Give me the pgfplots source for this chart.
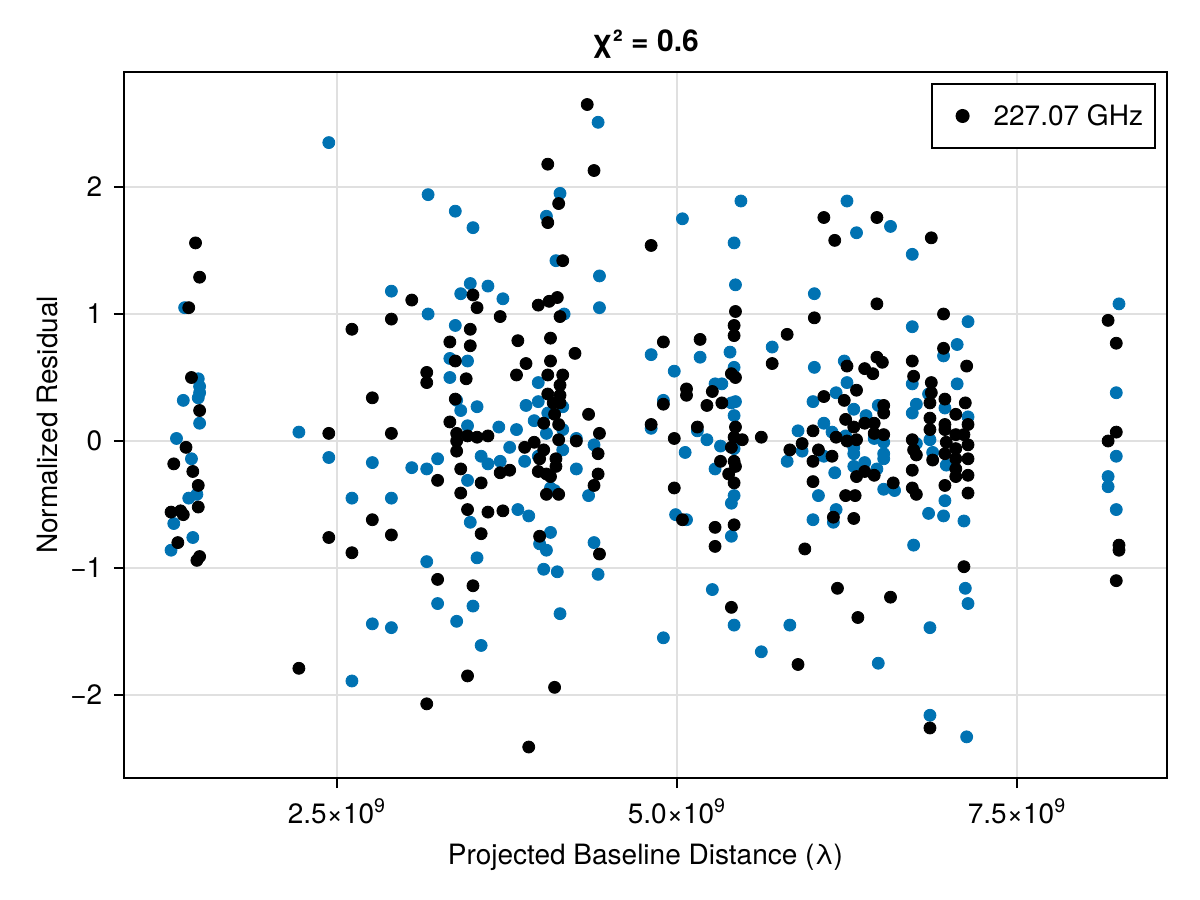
\documentclass[border=0pt]{standalone}
\usepackage{fontspec}
\setmainfont{TeX Gyre Heros}
\usepackage{pgfplots}
\pgfplotsset{compat=1.18}
\definecolor{mblue}{RGB}{0,114,178}
\begin{document}
\fontsize{14bp}{17bp}\selectfont
\begin{tikzpicture}
\path[use as bounding box] (-62bp,-61bp) rectangle (538bp,389bp);
\begin{axis}[
  at={(0,0)}, anchor=south west,
  scale only axis, width=521.5bp, height=353bp,
  xmin=0.934e9, xmax=8.603e9, ymin=-2.654, ymax=2.906,
  scaled x ticks=false,
  xtick={2.5e9,5e9,7.5e9},
  xticklabels={2.5×10\textsuperscript{9},5.0×10\textsuperscript{9},7.5×10\textsuperscript{9}},
  ytick={-2,-1,0,1,2},
  yticklabels={−2,−1,0,1,2},
  xtick pos=lower, ytick pos=left,
  tick align=outside, major tick length=5bp,
  tick style={black, line width=1bp},
  axis line style={line width=1bp},
  grid=major, major grid style={black!12, line width=1bp},
  minor tick num=0,
  ticklabel style={font=\fontsize{14bp}{17bp}\selectfont},
  xticklabel style={anchor=base, inner sep=0pt, yshift=-17.5bp},
  yticklabel style={anchor=east, inner sep=0pt, xshift=-5.7bp},
  title={χ² = 0.6},
  title style={at={(axis description cs:0.5,1.0127)}, anchor=base, font=\bfseries\fontsize{15bp}{18bp}\selectfont},
  xlabel={Projected Baseline Distance (λ)},
  xlabel style={at={(axis description cs:0.5,-0.1232)}, anchor=base, font=\fontsize{14bp}{17bp}\selectfont},
  ylabel={Normalized Residual},
  ylabel style={at={(axis description cs:-0.0642,0.5)}, anchor=base, font=\fontsize{14bp}{17bp}\selectfont},
  legend style={at={(1,1)}, anchor=north east, xshift=-5.5bp, yshift=-5.5bp,
    draw=black, line width=1bp, inner xsep=6bp, inner ysep=11bp,
    font=\fontsize{14bp}{17bp}\selectfont,
    nodes={inner sep=0pt, text height=10bp, text depth=0bp},
    column sep=0bp},
  legend image code/.code={\path[draw=none, fill=none] (0bp,-5bp) rectangle (25bp,5bp); \draw[#1] plot coordinates {(9.5bp,0bp)};},
]
\addplot[only marks, mark=*, mark size=3bp, color=mblue, mark options={draw=none, fill=mblue}, forget plot] coordinates {
(1.38e9,1.05) (1.48e9,0.49) (1.49e9,0.43) (1.49e9,0.38) (1.48e9,0.34) (1.37e9,0.32) (1.49e9,0.14)
(1.32e9,0.02) (1.43e9,-0.14) (1.47e9,-0.42) (1.41e9,-0.45) (1.30e9,-0.65) (1.44e9,-0.76) (1.28e9,-0.86)
(2.44e9,2.35) (3.17e9,1.94) (2.90e9,1.18) (3.17e9,1.00) (2.22e9,0.07) (2.44e9,-0.13) (2.76e9,-0.17)
(3.05e9,-0.21) (3.16e9,-0.22) (3.24e9,-0.14) (2.61e9,-0.45) (2.90e9,-0.45) (3.16e9,-0.95) (3.24e9,-1.28)
(2.76e9,-1.44) (2.90e9,-1.47) (2.61e9,-1.89)
(3.37e9,1.81) (3.50e9,1.68) (3.48e9,1.24) (3.61e9,1.22) (3.41e9,1.16) (3.72e9,1.12) (3.37e9,0.91)
(3.33e9,0.65) (3.46e9,0.63) (3.98e9,0.46) (3.33e9,0.50) (3.38e9,0.32) (3.41e9,0.24) (3.53e9,0.27)
(3.89e9,0.28) (3.98e9,0.31) (3.46e9,0.12) (3.69e9,0.11) (3.82e9,0.09) (3.95e9,0.16) (3.77e9,-0.05)
(3.56e9,-0.12) (3.61e9,-0.18) (3.70e9,-0.16) (3.88e9,-0.16) (3.98e9,-0.12) (3.46e9,-0.31)
(3.83e9,-0.54) (3.91e9,-0.59) (3.48e9,-0.64) (3.99e9,-0.81) (3.53e9,-0.92) (3.50e9,-1.30) (3.38e9,-1.42)
(3.56e9,-1.61)
(4.42e9,2.51) (4.14e9,1.95) (4.04e9,1.77) (4.11e9,1.42) (4.43e9,1.30) (4.43e9,1.05) (4.17e9,1.00)
(4.16e9,0.27) (4.05e9,0.22) (4.16e9,0.09) (4.04e9,0.06) (4.26e9,0.02) (4.39e9,-0.03) (4.16e9,-0.07)
(4.26e9,-0.22) (4.35e9,-0.43) (4.07e9,-0.37) (4.10e9,-0.39) (4.07e9,-0.72) (4.39e9,-0.80) (4.04e9,-0.86)
(4.02e9,-1.01) (4.12e9,-1.03) (4.42e9,-1.05) (4.14e9,-1.36)
(5.47e9,1.89) (5.04e9,1.75) (5.42e9,1.56) (5.43e9,1.23) (5.70e9,0.74) (4.81e9,0.68) (5.17e9,0.66)
(5.39e9,0.70) (4.98e9,0.55) (5.42e9,0.58) (5.28e9,0.45) (5.33e9,0.45) (4.90e9,0.32) (5.40e9,0.30)
(5.43e9,0.31) (5.42e9,0.20) (4.81e9,0.10) (5.15e9,0.08) (5.22e9,0.01) (5.06e9,-0.09) (5.32e9,-0.04)
(5.42e9,-0.06) (5.28e9,-0.22) (5.42e9,-0.43) (5.40e9,-0.49) (4.99e9,-0.58) (5.07e9,-0.62) (5.40e9,-0.75)
(5.26e9,-1.17) (5.42e9,-1.45) (4.90e9,-1.55) (5.62e9,-1.66)
(6.25e9,1.89) (6.32e9,1.64) (6.01e9,1.16) (6.01e9,0.58) (6.23e9,0.63) (6.25e9,0.46) (6.17e9,0.38)
(6.00e9,0.31) (6.30e9,0.25) (6.39e9,0.20) (6.48e9,0.28) (6.08e9,0.14) (5.89e9,0.08) (6.14e9,0.07)
(6.24e9,0.04) (6.45e9,0.02) (5.92e9,-0.08) (5.81e9,-0.16) (6.08e9,-0.12) (6.30e9,-0.05) (6.30e9,-0.10)
(6.16e9,-0.25) (6.30e9,-0.20) (6.38e9,-0.17) (6.47e9,-0.22) (6.52e9,-0.38) (6.04e9,-0.43) (6.17e9,-0.54)
(6.15e9,-0.64) (6.00e9,-0.62) (5.83e9,-1.45) (6.48e9,-1.75)
(6.57e9,1.69) (6.73e9,1.47) (7.14e9,0.94) (6.73e9,0.90) (7.06e9,0.76) (6.96e9,0.67) (6.73e9,0.45)
(7.06e9,0.45) (6.85e9,0.37) (6.97e9,0.26) (6.76e9,0.29) (6.73e9,0.22) (7.14e9,0.19) (6.86e9,0.01)
(6.52e9,-0.01) (6.76e9,-0.02) (6.52e9,-0.10) (6.52e9,-0.14) (6.88e9,-0.09) (6.98e9,-0.19) (6.60e9,-0.39)
(6.97e9,-0.47) (6.85e9,-0.57) (6.96e9,-0.59) (7.11e9,-0.63) (6.74e9,-0.82)
(7.12e9,-1.16) (7.14e9,-1.28) (6.86e9,-1.47) (6.86e9,-2.16) (7.13e9,-2.33)
(8.25e9,1.08) (8.23e9,0.38) (8.23e9,-0.12) (8.17e9,-0.28) (8.17e9,-0.36) (8.23e9,-0.54)
};
\addplot[only marks, mark=*, mark size=3bp, color=black, mark options={draw=none, fill=black}] coordinates {
(1.46e9,1.56) (1.49e9,1.29) (1.41e9,1.05) (1.43e9,0.50) (1.49e9,0.24) (1.39e9,-0.05) (1.30e9,-0.18)
(1.44e9,-0.24) (1.48e9,-0.35) (1.48e9,-0.52) (1.28e9,-0.56) (1.35e9,-0.55) (1.37e9,-0.58) (1.33e9,-0.80)
(1.49e9,-0.91) (1.47e9,-0.94)
(3.05e9,1.11) (2.90e9,0.96) (2.61e9,0.88) (3.16e9,0.54) (3.16e9,0.46) (2.76e9,0.34) (2.44e9,0.06)
(2.90e9,0.06) (3.24e9,-0.31) (2.76e9,-0.62) (2.44e9,-0.76) (2.90e9,-0.74) (2.61e9,-0.88) (3.24e9,-1.09)
(2.22e9,-1.79) (3.16e9,-2.07)
(3.98e9,1.07) (3.50e9,1.15) (3.53e9,1.05) (3.70e9,0.98) (3.48e9,0.88) (3.33e9,0.78) (3.48e9,0.75)
(3.83e9,0.79) (3.37e9,0.63) (3.89e9,0.61) (3.45e9,0.49) (3.82e9,0.52) (3.37e9,0.33) (3.33e9,0.15)
(3.53e9,0.03) (3.61e9,0.04) (3.38e9,0.06) (3.38e9,0.00) (3.38e9,-0.08) (3.46e9,0.04) (3.88e9,-0.05)
(3.95e9,-0.01) (3.41e9,-0.22) (3.70e9,-0.25) (3.77e9,-0.23) (3.98e9,-0.24) (3.56e9,-0.33) (3.41e9,-0.41)
(3.46e9,-0.54) (3.61e9,-0.56) (3.72e9,-0.55) (3.56e9,-0.73) (3.99e9,-0.75) (3.50e9,-1.14) (3.46e9,-1.85)
(4.34e9,2.65) (4.05e9,2.18) (4.39e9,2.13) (4.13e9,1.87) (4.05e9,1.72) (4.16e9,1.42) (4.06e9,1.10)
(4.12e9,1.13) (4.14e9,0.98) (4.07e9,0.81) (4.25e9,0.69) (4.07e9,0.63) (4.05e9,0.52) (4.16e9,0.52)
(4.14e9,0.44) (4.05e9,0.37) (4.14e9,0.36)
(4.09e9,0.30) (4.14e9,0.30) (4.10e9,0.21) (4.35e9,0.21) (4.02e9,0.14) (4.13e9,0.13) (4.13e9,0.01)
(4.43e9,0.06) (4.26e9,0.00) (4.02e9,-0.07) (4.42e9,-0.10) (3.99e9,-0.14) (4.11e9,-0.14) (4.11e9,-0.20)
(4.04e9,-0.26) (4.07e9,-0.28) (4.42e9,-0.26) (4.39e9,-0.35) (4.04e9,-0.42) (4.13e9,-0.42) (4.43e9,-0.89)
(4.10e9,-1.94) (3.91e9,-2.41)
(4.81e9,1.54) (5.43e9,1.02) (5.42e9,0.91) (5.42e9,0.83) (4.90e9,0.78) (5.17e9,0.80) (5.70e9,0.61)
(5.40e9,0.53) (5.43e9,0.50) (5.07e9,0.41) (5.07e9,0.36) (5.26e9,0.39) (4.90e9,0.29) (5.22e9,0.28)
(5.33e9,0.30) (4.81e9,0.13) (5.15e9,0.11) (5.43e9,0.11) (4.98e9,0.02) (5.42e9,0.03) (5.48e9,0.01)
(5.62e9,0.03) (5.40e9,-0.05) (5.32e9,-0.16) (5.42e9,-0.16) (5.43e9,-0.20) (5.38e9,-0.26) (5.42e9,-0.33)
(4.98e9,-0.37) (5.04e9,-0.62) (5.28e9,-0.68) (5.42e9,-0.66) (5.28e9,-0.83) (5.40e9,-1.31)
(6.08e9,1.76) (6.47e9,1.76) (6.16e9,1.58) (6.47e9,1.08) (6.01e9,0.97) (5.81e9,0.84) (6.25e9,0.59)
(6.38e9,0.57) (6.44e9,0.53) (6.47e9,0.66) (6.32e9,0.40) (6.08e9,0.35) (6.23e9,0.32) (6.24e9,0.17)
(6.38e9,0.14) (6.45e9,0.14) (6.30e9,0.11) (6.00e9,0.08) (6.17e9,0.03) (6.25e9,0.00) (6.32e9,0.01)
(5.92e9,-0.02) (5.83e9,-0.07) (6.04e9,-0.07) (6.00e9,-0.16) (6.14e9,-0.12) (6.32e9,-0.28) (6.38e9,-0.24)
(6.45e9,-0.27) (6.00e9,-0.32) (6.24e9,-0.43) (6.31e9,-0.43) (6.15e9,-0.60) (6.30e9,-0.61) (5.94e9,-0.85)
(6.18e9,-1.16) (6.33e9,-1.39) (5.89e9,-1.76)
(6.87e9,1.60) (6.96e9,1.00) (6.96e9,0.73) (6.51e9,0.62) (6.73e9,0.63) (7.13e9,0.59) (6.74e9,0.51)
(6.87e9,0.46) (6.87e9,0.38) (6.86e9,0.30) (6.97e9,0.33) (7.12e9,0.30) (6.52e9,0.28) (6.52e9,0.22)
(6.86e9,0.18) (7.05e9,0.21) (7.14e9,0.13) (6.97e9,0.13) (6.97e9,0.09) (6.86e9,0.09) (6.52e9,0.05)
(6.45e9,0.06) (6.73e9,0.01) (7.05e9,0.05) (7.11e9,0.05) (6.98e9,-0.01) (7.05e9,-0.06) (7.14e9,-0.03)
(6.74e9,-0.07) (6.76e9,-0.11) (6.97e9,-0.10) (6.88e9,-0.15) (7.05e9,-0.14) (7.14e9,-0.14) (7.05e9,-0.22)
(6.73e9,-0.23) (7.05e9,-0.28) (7.14e9,-0.27) (6.59e9,-0.33) (6.73e9,-0.37) (6.76e9,-0.42) (6.97e9,-0.35)
(7.14e9,-0.41)
(7.11e9,-0.99) (6.57e9,-1.23) (6.86e9,-2.26)
(8.17e9,0.95) (8.23e9,0.77) (8.23e9,0.07) (8.17e9,0.00) (8.25e9,-0.82) (8.25e9,-0.86) (8.23e9,-1.10)
};
\addlegendentry{227.07 GHz}
\end{axis}
\end{tikzpicture}
\end{document}
